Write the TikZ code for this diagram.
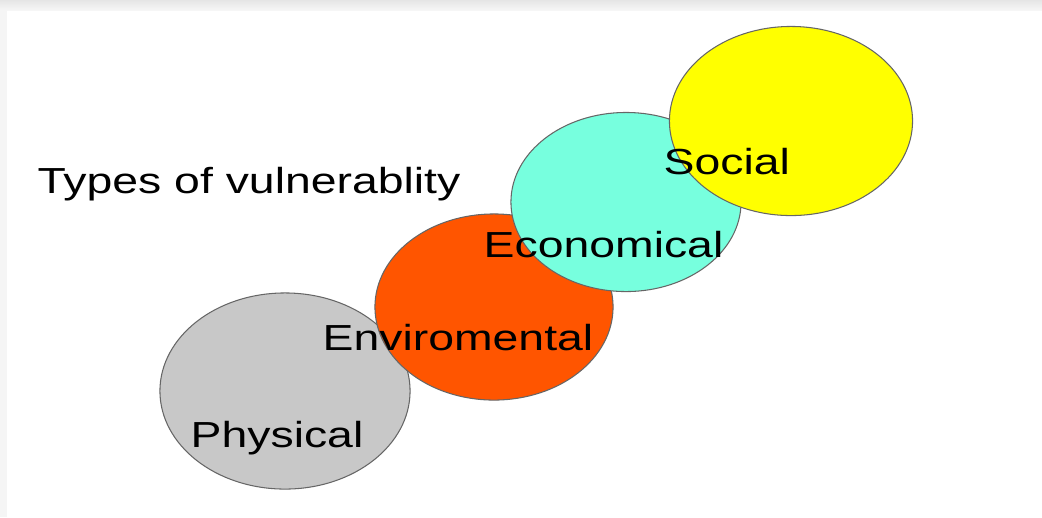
\documentclass[tikz,border=0pt]{standalone}
\usepackage{fontspec}
\setmainfont{Liberation Sans}
\usetikzlibrary{shapes.geometric}
\definecolor{physgray}{RGB}{200,200,200}
\definecolor{envorange}{RGB}{255,85,0}
\definecolor{econaqua}{RGB}{119,255,222}
\definecolor{socyellow}{RGB}{255,255,0}
\newcommand{\wide}[1]{\scalebox{1.28}[1]{#1}}
\tikzset{
  blob/.style={ellipse,draw=black!60,line width=0.3pt,inner sep=0pt},
  tag/.style={anchor=base west,inner sep=0pt,font=\fontsize{10.3}{12}\selectfont}
}

\begin{document}
\begin{tikzpicture}[x=0.01cm,y=-0.01cm]
    \useasboundingbox (0,0) rectangle (1042,517);
    % frame
    \shade[top color=gray!20,bottom color=gray!7] (0,0) rectangle (1042,10);
    \fill[gray!8] (0,10) rectangle (7,517);
    % the four ellipses, back to front
    \node[blob,fill=physgray,minimum width=2.50cm,minimum height=1.96cm] (phys) at (285,391) {};
    \node[blob,fill=envorange,minimum width=2.38cm,minimum height=1.86cm] (env) at (494,307) {};
    \node[blob,fill=econaqua,minimum width=2.30cm,minimum height=1.79cm] (econ) at (626,202) {};
    \node[blob,fill=socyellow,minimum width=2.43cm,minimum height=1.89cm] (soc) at (791,121) {};
    % labels
    \node[tag] (title) at (37,193) {\wide{Types of vulnerablity}};
    \node[tag] (tsoc) at (663,174) {\wide{Social}};
    \node[tag] (tecon) at (483,257) {\wide{Economical}};
    \node[tag] (tenv) at (322,350) {\wide{Enviromental}};
    \node[tag] (tphys) at (190,447) {\wide{Physical}};
\end{tikzpicture}
\end{document}
